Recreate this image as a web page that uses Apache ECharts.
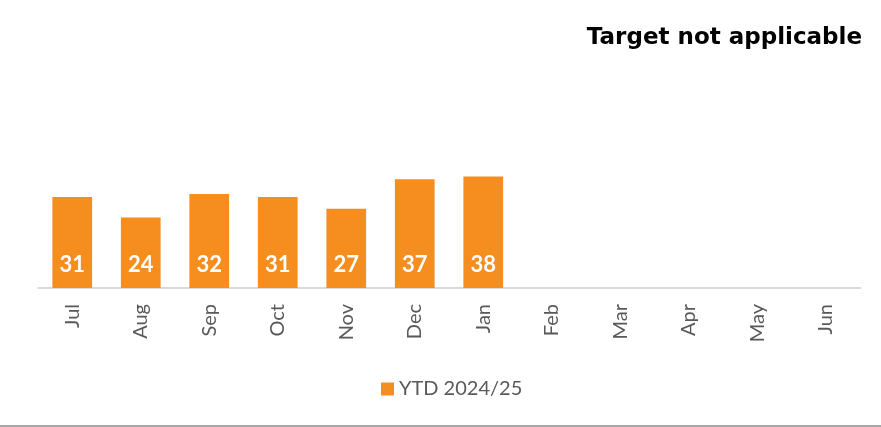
<!DOCTYPE html>
<html>
<head>
<meta charset="utf-8">
<script src="https://cdn.jsdelivr.net/npm/echarts@6/dist/echarts.min.js"></script>
<style>
  html, body { margin: 0; padding: 0; background: #fff; }
  #chart { width: 881px; height: 425px; border-bottom: 2px solid #a6a6a6; }
</style>
</head>
<body>
<div id="chart"></div>
<script>
var months = ['Jul', 'Aug', 'Sep', 'Oct', 'Nov', 'Dec', 'Jan', 'Feb', 'Mar', 'Apr', 'May', 'Jun'];
var ytdValues = [31, 24, 32, 31, 27, 37, 38, null, null, null, null, null];
var seriesName = 'YTD 2024/25';
var titleText = 'Target not applicable';

var option = {
    animation: false,
    title: {
        text: titleText,
        right: 14,
        top: 22,
        textStyle: {
            fontFamily: 'DejaVu Sans',
            fontWeight: 'bold',
            fontSize: 23,
            color: '#000'
        }
    },
    legend: {
        data: [seriesName],
        top: 374,
        left: 376,
        itemWidth: 13,
        itemHeight: 13,
        itemGap: 6,
        icon: 'rect',
        textStyle: {
            fontFamily: 'Lato',
            fontSize: 20,
            color: '#595959'
        }
    },
    grid: {
        left: 38,
        right: 21,
        top: 53,
        bottom: 137
    },
    xAxis: {
        type: 'category',
        data: months,
        axisLine: { lineStyle: { color: '#d9d9d9', width: 2 } },
        axisTick: { show: false },
        axisLabel: {
            rotate: 90,
            margin: 16,
            fontFamily: 'Lato',
            fontSize: 20,
            color: '#595959'
        }
    },
    yAxis: {
        type: 'value',
        min: 0,
        max: 80,
        show: false,
        splitLine: { show: false }
    },
    series: [{
        name: seriesName,
        type: 'bar',
        data: ytdValues,
        barWidth: '58%',
        itemStyle: { color: '#f68d1f' },
        label: {
            show: true,
            position: 'insideBottom',
            distance: 12,
            fontFamily: 'Lato',
            fontWeight: 'bold',
            fontSize: 22,
            color: '#fff'
        }
    }]
};

var myChart = echarts.init(document.getElementById('chart'));
myChart.setOption(option);
</script>
</body>
</html>
